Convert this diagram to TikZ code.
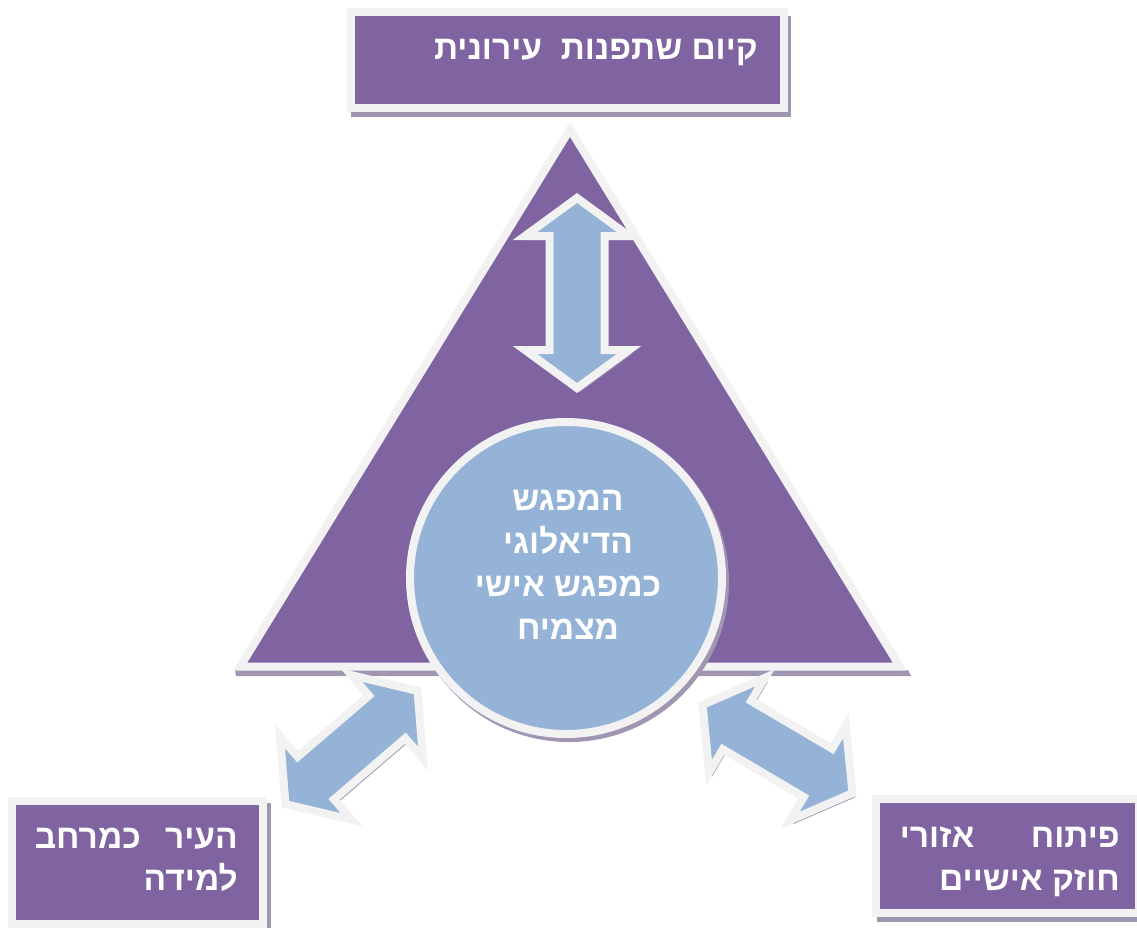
\documentclass[tikz,border=0pt]{standalone}
\usepackage{fontspec}
\newfontfamily\heb[Script=Hebrew]{Liberation Sans}
\TeXXeTstate=1
\definecolor{purp}{HTML}{8064A2}
\definecolor{lblue}{HTML}{95B3D7}
\definecolor{lgray}{HTML}{F2F2F2}
\definecolor{shad}{RGB}{160,150,178}
\newcommand\dblpath[4]{(-#1,0) -- ({-#1+#2},#3) -- ({-#1+#2},#4) -- ({#1-#2},#4) -- ({#1-#2},#3) -- (#1,0) -- ({#1-#2},-#3) -- ({#1-#2},-#4) -- ({-#1+#2},-#4) -- ({-#1+#2},-#3) -- cycle}
\tikzset{
  border/.style={draw=lgray, line width=8pt, line join=miter, miter limit=10},
  purpbox/.style={border, fill=purp},
  blockarrow/.style={border, fill=lblue},
  hebtext/.style={text=white, inner sep=0pt, font=\heb\bfseries\fontsize{33.5}{40}\selectfont}
}
\begin{document}
\begin{tikzpicture}[x=1pt,y=-1pt]
\useasboundingbox (0,0) rectangle (1137,928);
% triangle
\fill[shad] (235,670) -- (908,670) -- (911,676) -- (236,676) -- cycle;
\draw[purpbox] (570,129.3) -- (899.8,666.5) -- (240.2,666.5) -- cycle;
% top box
\fill[shad] (351,16) rectangle (791,117);
\draw[purpbox] (350.5,12) rectangle (784,108);
\node[hebtext, anchor=base east] (toptext) at (758,60) {\beginR קיום שתפנות~ עירונית\endR};
% vertical arrow
\begin{scope}[shift={(580,297)},rotate=90] \fill[shad] \dblpath{95}{38}{52}{27.5}; \end{scope}
\begin{scope}[shift={(577,293)},rotate=90] \draw[blockarrow] \dblpath{95}{38}{52}{27.5}; \end{scope}
% circle
\fill[shad] (569,582) circle[radius=160pt];
\draw[border, fill=lblue] (566,578) circle[radius=156pt];
\node[hebtext, anchor=base] (ctext) at (568,510) {\vtop{\baselineskip=43pt
  \hbox to 260pt{\hss\beginR המפגש\endR\hss}
  \hbox to 260pt{\hss\beginR הדיאלוגי\endR\hss}
  \hbox to 260pt{\hss\beginR כמפגש אישי\endR\hss}
  \hbox to 260pt{\hss\beginR מצמיח\endR\hss}}};
% diagonal arrows
\begin{scope}[shift={(354.5,751.5)},rotate=40.6] \fill[shad] \dblpath{87}{40}{55}{28}; \end{scope}
\begin{scope}[shift={(351.5,747.5)},rotate=40.6] \draw[blockarrow] \dblpath{87}{40}{55}{28}; \end{scope}
\begin{scope}[shift={(780.5,753)},rotate=-30.5] \fill[shad] \dblpath{87}{40}{55}{28}; \end{scope}
\begin{scope}[shift={(777.5,749)},rotate=-30.5] \draw[blockarrow] \dblpath{87}{40}{55}{28}; \end{scope}
% bottom-left box
\fill[shad] (14,803) rectangle (271,940);
\draw[purpbox] (12,801) rectangle (263,924);
\node[hebtext, anchor=base east] (bltext) at (238,848) {\vtop{\baselineskip=42pt
  \hbox to 203pt{\beginR העיר\hfill כמרחב\endR}
  \hbox to 203pt{\hfill\beginR למידה\endR}}};
% bottom-right box
\fill[shad] (877,803) rectangle (1150,922);
\draw[purpbox] (875.5,799) rectangle (1139,913);
\node[hebtext, anchor=base east] (brtext) at (1120,847) {\vtop{\baselineskip=43pt
  \hbox to 220pt{\beginR פיתוח\hfill אזורי\endR}
  \hbox to 220pt{\hfill\beginR חוזק אישיים\endR}}};
\end{tikzpicture}
\end{document}
